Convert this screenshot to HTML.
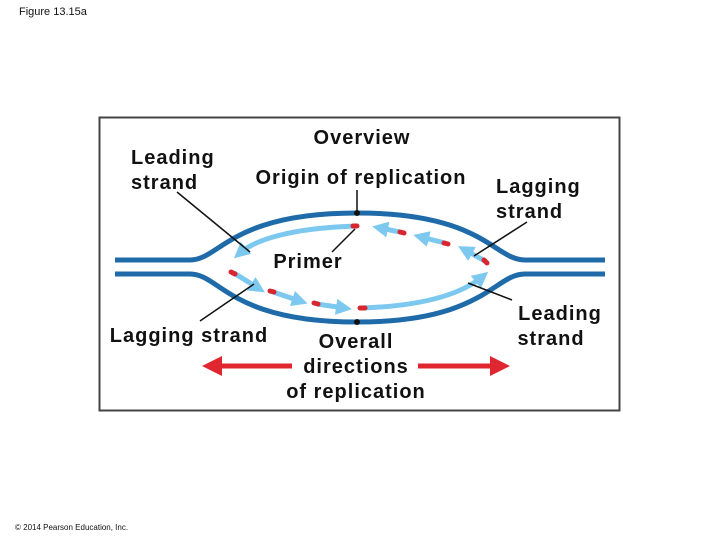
<!DOCTYPE html>
<html><head><meta charset="utf-8"><style>
body{margin:0;background:#fff;}
svg text{font-family:"Liberation Sans",Arial,sans-serif;fill:#111;}
</style></head><body>
<svg width="720" height="540" viewBox="0 0 720 540" xmlns="http://www.w3.org/2000/svg">
<defs>
<marker id="lb" viewBox="0 0 10 10" refX="5" refY="5" markerWidth="3.2" markerHeight="3.2" orient="auto"><path d="M0,0 L10,5 L0,10 z" fill="#7cc8ef"/></marker>
<marker id="rd" viewBox="0 0 10 10" refX="5" refY="5" markerWidth="4" markerHeight="4" orient="auto"><path d="M0,0 L10,5 L0,10 z" fill="#e0262f"/></marker>
</defs>
<text x="19" y="15" font-size="11">Figure 13.15a</text>
<rect x="99.5" y="117.5" width="520" height="293" fill="none" stroke="#444" stroke-width="2"/>
<path d="M115,260 L190,260 C220,260 230,213 357,213 C484,213 494,260 525,260 L605,260" fill="none" stroke="#1f6aa8" stroke-width="5"/>
<path d="M115,274 L190,274 C220,274 230,322 357,322 C484,322 494,274 525,274 L605,274" fill="none" stroke="#1f6aa8" stroke-width="5"/>
<path d="M357,226 C290,228 255,240 240,253" fill="none" stroke="#7cc8ef" stroke-width="5" marker-end="url(#lb)"/>
<path d="M400,232 L380,228" fill="none" stroke="#7cc8ef" stroke-width="5" marker-end="url(#lb)"/>
<path d="M445,243 L421,237" fill="none" stroke="#7cc8ef" stroke-width="5" marker-end="url(#lb)"/>
<path d="M485,261 L465,250" fill="none" stroke="#7cc8ef" stroke-width="5" marker-end="url(#lb)"/>
<path d="M234,273 L258,288" fill="none" stroke="#7cc8ef" stroke-width="5" marker-end="url(#lb)"/>
<path d="M273,292 L300,301" fill="none" stroke="#7cc8ef" stroke-width="5" marker-end="url(#lb)"/>
<path d="M317,304 L344,308" fill="none" stroke="#7cc8ef" stroke-width="5" marker-end="url(#lb)"/>
<path d="M362,308 C420,306 460,295 482,277" fill="none" stroke="#7cc8ef" stroke-width="5" marker-end="url(#lb)"/>
<g stroke="#d9262e" stroke-width="5" stroke-linecap="round">
<line x1="353" y1="226" x2="357" y2="226"/>
<line x1="400" y1="232" x2="404" y2="233"/>
<line x1="444" y1="243" x2="448" y2="244"/>
<line x1="484" y1="260" x2="487" y2="263"/>
<line x1="231" y1="272" x2="235" y2="274"/>
<line x1="270" y1="291" x2="274" y2="292"/>
<line x1="314" y1="303" x2="318" y2="304"/>
<line x1="360" y1="308" x2="365" y2="308"/>
</g>
<g stroke="#111" stroke-width="1.5">
<line x1="177" y1="192" x2="250" y2="252"/>
<line x1="357" y1="190" x2="357" y2="213"/>
<line x1="355" y1="229" x2="332" y2="252"/>
<line x1="527" y1="222" x2="474" y2="256"/>
<line x1="200" y1="321" x2="254" y2="284"/>
<line x1="512" y1="300" x2="468" y2="283"/>
</g>
<circle cx="357" cy="213" r="3" fill="#111"/>
<circle cx="357" cy="322" r="3" fill="#111"/>
<line x1="292" y1="366" x2="212" y2="366" stroke="#e0262f" stroke-width="5" marker-end="url(#rd)"/>
<line x1="418" y1="366" x2="500" y2="366" stroke="#e0262f" stroke-width="5" marker-end="url(#rd)"/>
<g font-size="20" font-weight="bold" letter-spacing="1">
<text x="131" y="164">Leading</text>
<text x="131" y="189">strand</text>
<text x="362" y="144" text-anchor="middle">Overview</text>
<text x="361" y="184" text-anchor="middle">Origin of replication</text>
<text x="496" y="193">Lagging</text>
<text x="496" y="218">strand</text>
<text x="308" y="268" text-anchor="middle">Primer</text>
<text x="189" y="342" text-anchor="middle">Lagging strand</text>
<text x="356" y="348" text-anchor="middle">Overall</text>
<text x="356" y="373" text-anchor="middle">directions</text>
<text x="356" y="398" text-anchor="middle">of replication</text>
<text x="560" y="320" text-anchor="middle">Leading</text>
<text x="551" y="345" text-anchor="middle">strand</text>
</g>
<text x="15" y="530" font-size="8">© 2014 Pearson Education, Inc.</text>
</svg>
</body></html>
